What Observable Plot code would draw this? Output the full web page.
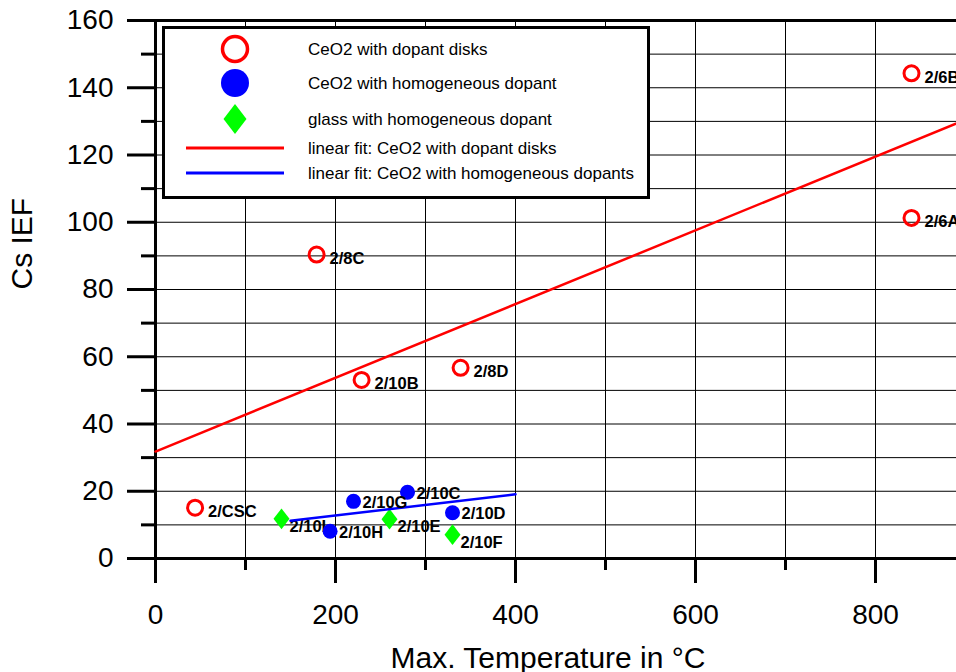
<!DOCTYPE html>
<html><head><meta charset="utf-8">
<script src="https://cdn.jsdelivr.net/npm/d3@7"></script>
<script src="https://cdn.jsdelivr.net/npm/@observablehq/plot@0.6"></script>
<style>html,body{margin:0;padding:0;background:#fff;overflow:hidden;}</style>
</head><body><div id="chart"></div>
<script>
// ---- data ----
const diskNames = ["2/CSC", "2/8C", "2/10B", "2/8D", "2/6A", "2/6B"];
const diskTemp  = [44, 179, 229, 339, 840, 840];
const diskIEF   = [15.1, 90.4, 53.1, 56.7, 101.3, 144.3];

const homNames = ["2/10H", "2/10G", "2/10C", "2/10D"];
const homTemp  = [194, 220, 280, 330];
const homIEF   = [8.1, 17.0, 19.7, 13.6];

const glassNames = ["2/10I", "2/10E", "2/10F"];
const glassTemp  = [140, 260, 330];
const glassIEF   = [11.8, 11.7, 7.1];

const diskFitTemp = [0, 900];
const diskFitIEF  = [31.8, 130.5];
const homFitTemp  = [150, 400];
const homFitIEF   = [11.2, 19.1];

const xMajorTicks = [0, 200, 400, 600, 800];
const xMinorTicks = [100, 300, 500, 700, 900];
const yMajorTicks = [0, 20, 40, 60, 80, 100, 120, 140, 160];
const yMinorTicks = [10, 30, 50, 70, 90, 110, 130, 150];
const xGrid = [100, 200, 300, 400, 500, 600, 700, 800, 900];
const yGrid = [10, 20, 30, 40, 50, 60, 70, 80, 90, 100, 110, 120, 130, 140, 150];

const xTitle = "Max. Temperature in °C";
const yTitle = "Cs IEF";
const legendLabels = [
  "CeO2 with dopant disks",
  "CeO2 with homogeneous dopant",
  "glass with homogeneous dopant",
  "linear fit: CeO2 with dopant disks",
  "linear fit: CeO2 with homogeneous dopants"
];

// ---- build tables ----
const toRows = (names, xs, ys) => xs.map((x, i) => ({name: names ? names[i] : null, t: x, v: ys[i]}));
const disks = toRows(diskNames, diskTemp, diskIEF);
const homs = toRows(homNames, homTemp, homIEF);
const glasses = toRows(glassNames, glassTemp, glassIEF);
const diskFit = toRows(null, diskFitTemp, diskFitIEF);
const homFit = toRows(null, homFitTemp, homFitIEF);

const font = "Arial, 'Liberation Sans', Helvetica, sans-serif";
const RED = "#ff0000", BLUE = "#0000ff", GREEN = "#00ff00";

const tallDiamond = {
  draw(ctx, size) {
    const r = Math.sqrt(size / Math.PI);
    const h = r * 1.3;
    ctx.moveTo(0, -h); ctx.lineTo(r, 0); ctx.lineTo(0, h); ctx.lineTo(-r, 0); ctx.closePath();
  }
};

const labelStyle = {x: "t", y: "v", text: "name", textAnchor: "start", fontWeight: "bold", fontSize: 16.5, fill: "black"};

const plot = Plot.plot({
  width: 956,
  height: 672,
  marginLeft: 155,
  marginTop: 20,
  marginBottom: 114,
  marginRight: 0,
  style: {fontFamily: font, background: "white", overflow: "hidden"},
  x: {domain: [0, 900], range: [155, 965]},
  y: {domain: [0, 160], range: [558, 20]},
  marks: [
    Plot.ruleX(xGrid, {y1: 0, y2: 160, stroke: "black", strokeWidth: 1}),
    Plot.ruleY(yGrid, {x1: 0, x2: 900, stroke: "black", strokeWidth: 1}),
    Plot.axisY(yMajorTicks, {anchor: "left", tickSize: 28, tickPadding: 14, strokeWidth: 3, fontSize: 28, label: null}),
    Plot.axisY(yMinorTicks, {anchor: "left", tickSize: 14, strokeWidth: 3, text: null, label: null}),
    Plot.axisX(xMajorTicks, {anchor: "bottom", tickSize: 25, tickPadding: 21, strokeWidth: 3, fontSize: 28, label: null}),
    Plot.axisX(xMinorTicks, {anchor: "bottom", tickSize: 12, strokeWidth: 3, text: null, label: null}),
    Plot.ruleX([0], {y1: 0, y2: 160, stroke: "black", strokeWidth: 3}),
    Plot.ruleY([0], {x1: 0, x2: 900, stroke: "black", strokeWidth: 3}),
    Plot.ruleY([160], {x1: 0, x2: 900, stroke: "black", strokeWidth: 3}),
    Plot.text([yTitle], {frameAnchor: "left", dx: -133, rotate: -90, fontSize: 30, fill: "black"}),
    Plot.text([xTitle], {frameAnchor: "bottom", dx: -8, dy: 109, fontSize: 30, fill: "black"}),
    Plot.line(diskFit, {x: "t", y: "v", stroke: RED, strokeWidth: 2.5}),
    Plot.dot(disks, {x: "t", y: "v", r: 7.5, stroke: RED, strokeWidth: 3, fill: "none"}),
    Plot.text(disks, {...labelStyle, dx: 13, dy: 4}),
    Plot.dot(glasses, {x: "t", y: "v", r: 8, symbol: tallDiamond, fill: GREEN, stroke: "none"}),
    Plot.text(glasses, {...labelStyle, dx: 8, dy: 8}),
    Plot.line(homFit, {x: "t", y: "v", stroke: BLUE, strokeWidth: 2.5}),
    Plot.dot(homs, {x: "t", y: "v", r: 7.5, fill: BLUE, stroke: "none"}),
    Plot.text(homs, {...labelStyle, dx: 9, dy: 1})
  ]
});

// ---- legend box (drawn on top of the plot svg) ----
const svg = d3.select(plot);
const lg = svg.append("g").attr("font-family", font).attr("text-anchor", "start");
lg.append("rect").attr("x", 163.5).attr("y", 27.5).attr("width", 485).attr("height", 170)
  .attr("fill", "white").attr("stroke", "black").attr("stroke-width", 3);
const symX = 235, textX = 308;
const rowY = [49, 83, 119, 148, 173];
lg.append("circle").attr("cx", symX).attr("cy", rowY[0]).attr("r", 12.5)
  .attr("fill", "none").attr("stroke", RED).attr("stroke-width", 3.5);
lg.append("circle").attr("cx", symX).attr("cy", rowY[1]).attr("r", 14).attr("fill", BLUE);
lg.append("path").attr("transform", `translate(${symX},${rowY[2]})`)
  .attr("d", "M0,-15L11.5,0L0,15L-11.5,0Z").attr("fill", GREEN);
lg.append("line").attr("x1", 186).attr("x2", 284).attr("y1", rowY[3]).attr("y2", rowY[3])
  .attr("stroke", RED).attr("stroke-width", 3);
lg.append("line").attr("x1", 186).attr("x2", 284).attr("y1", rowY[4]).attr("y2", rowY[4])
  .attr("stroke", BLUE).attr("stroke-width", 3);
legendLabels.forEach((t, i) => {
  lg.append("text").attr("x", textX).attr("y", rowY[i]).attr("dy", "0.35em")
    .attr("text-anchor", "start").attr("font-size", 17).attr("fill", "black").text(t);
});

document.getElementById("chart").appendChild(plot);
</script>
</body></html>
